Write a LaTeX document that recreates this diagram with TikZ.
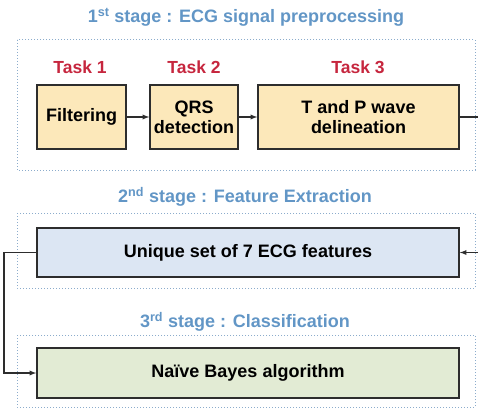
\documentclass[tikz,border=0pt]{standalone}
\usepackage{fontspec}
\setmainfont{Liberation Sans}
\usetikzlibrary{arrows}
\definecolor{stageblue}{RGB}{98,150,198}
\definecolor{taskred}{RGB}{198,38,62}
\definecolor{dotline}{RGB}{140,172,204}
\definecolor{boxline}{RGB}{45,45,45}
\definecolor{beige}{RGB}{252,232,186}
\definecolor{paleblue}{RGB}{220,230,243}
\definecolor{palegreen}{RGB}{226,235,212}
\begin{document}
\begin{tikzpicture}[x=1pt,y=-1pt,
	taskbox/.style={draw=boxline,line width=1.5pt,align=center,inner sep=0pt,font=\bfseries\fontsize{18}{20}\selectfont},
	stagebox/.style={draw=dotline,dotted,line width=1pt},
	stagetitle/.style={text=stageblue,font=\bfseries\fontsize{18}{20}\selectfont},
	tasklabel/.style={text=taskred,font=\bfseries\fontsize{17.5}{20}\selectfont},
	conn/.style={draw=boxline,line width=1.3pt,-latex}]
	\useasboundingbox (0,0) rectangle (478,409);
	\clip (0,0) rectangle (478,409);
	% stage frames
	\draw [stagebox] (17,40) rectangle (475,170);
	\draw [stagebox] (17,213) rectangle (475,288);
	\draw [stagebox] (17,335) rectangle (475,407);
	\node [stagetitle] (title1) at (246,17) {1\textsuperscript{st} stage : ECG signal preprocessing};
	\node [stagetitle] (title2) at (245,197) {2\textsuperscript{nd} stage : Feature Extraction};
	\node [stagetitle] (title3) at (245,322) {3\textsuperscript{rd} stage : Classification};
	\foreach \x/\n in {80/1,194/2,358/3}{
		\node [tasklabel] (task\n) at (\x,67) {Task \n};
	}
	\node [taskbox, fill=beige, minimum width=89pt, minimum height=64pt] (filt) at (81.5,117) {Filtering};
	\node [taskbox, fill=beige, minimum width=88pt, minimum height=64pt] (qrs) at (194,117) {QRS\\detection};
	\node [taskbox, fill=beige, minimum width=201pt, minimum height=64pt] (tpw) at (358.5,117) {T and P wave\\delineation};
	\node [taskbox, fill=paleblue, minimum width=422pt, minimum height=49pt] (feat) at (248,252.5) {Unique set of 7 ECG features};
	\node [taskbox, fill=palegreen, minimum width=422pt, minimum height=50pt] (bayes) at (248,373) {Na\"{\i}ve Bayes algorithm};
	\coordinate (rgt) at (486,117);
	\coordinate (lft) at (4,252.5);
	\draw [conn] (filt) -- (qrs);
	\draw [conn] (qrs) -- (tpw);
	\draw [conn] (tpw.east) -- (rgt) |- (feat.east);
	\draw [conn] (feat.west) -- (lft) |- (bayes.west);
\end{tikzpicture}
\end{document}
